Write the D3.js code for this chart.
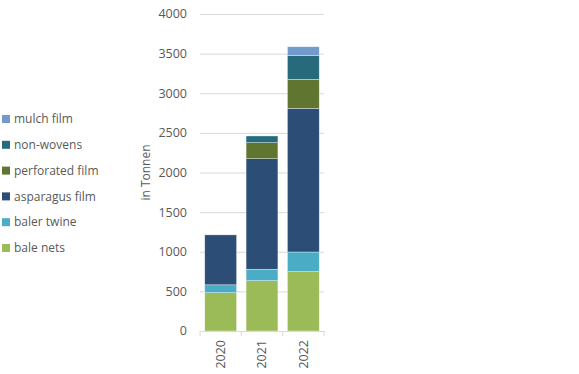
<!DOCTYPE html>
<html lang="en">
	<head>
		<meta charset="utf-8">
		<title>Tonnen</title>
		<script src="https://unpkg.com/d3@7/dist/d3.min.js"></script>
		<style>
			body { margin: 0; background: #fff; }
			text { font-family: "Open Sans", sans-serif; fill: #595959; }
		</style>
	</head>
	<body>
		<script type="text/javascript">

			//Data
			var years = ["2020", "2021", "2022"];
			var series = ["bale nets", "baler twine", "asparagus film", "perforated film", "non-wovens", "mulch film"];
			var baleNets = [483, 635, 749];
			var balerTwine = [100, 144, 248];
			var asparagusFilm = [630, 1395, 1813];
			var perforatedFilm = [0, 202, 366];
			var nonWovens = [0, 85, 298];
			var mulchFilm = [0, 0, 113];
			var yTicks = [0, 500, 1000, 1500, 2000, 2500, 3000, 3500, 4000];
			var colors = ["#9bbb59", "#4bacc6", "#2c4d75", "#5f7530", "#276a7c", "#729aca"];

			var values = [baleNets, balerTwine, asparagusFilm, perforatedFilm, nonWovens, mulchFilm];
			var table = years.map(function(y, i) {
				var row = { year: y };
				series.forEach(function(s, j) { row[s] = values[j][i]; });
				return row;
			});

			//Width and height
			var w = 579, h = 374;
			var margin = { top: 14, right: 255, bottom: 43, left: 200 };

			var svg = d3.select("body")
						.append("svg")
						.attr("width", w)
						.attr("height", h);

			var x = d3.scaleBand()
					  .domain(years)
					  .range([margin.left, w - margin.right])
					  .paddingInner(0.23)
					  .paddingOuter(0.115);

			var y = d3.scaleLinear()
					  .domain([0, 4000])
					  .range([h - margin.bottom, margin.top]);

			var color = d3.scaleOrdinal().domain(series).range(colors);

			//Gridlines
			svg.append("g")
			   .selectAll("line")
			   .data(yTicks.slice(1))
			   .enter()
			   .append("line")
			   .attr("x1", margin.left)
			   .attr("x2", w - margin.right)
			   .attr("y1", function(d) { return y(d) + 0.5; })
			   .attr("y2", function(d) { return y(d) + 0.5; })
			   .attr("stroke", "#d9d9d9")
			   .attr("stroke-width", 1);

			//Y axis labels
			svg.append("g")
			   .selectAll("text")
			   .data(yTicks)
			   .enter()
			   .append("text")
			   .attr("x", margin.left - 13)
			   .attr("y", function(d) { return y(d); })
			   .attr("dy", "0.35em")
			   .attr("text-anchor", "end")
			   .style("font-size", "12.5px")
			   .text(function(d) { return d; });

			svg.append("text")
			   .attr("transform", "translate(150," + ((margin.top + h - margin.bottom) / 2) + ") rotate(-90)")
			   .attr("text-anchor", "middle")
			   .style("font-size", "12px")
			   .text("in Tonnen");

			//Stacked bars
			var stack = d3.stack().keys(series)(table);

			svg.append("g")
			   .selectAll("g")
			   .data(stack)
			   .enter()
			   .append("g")
			   .attr("fill", function(d) { return color(d.key); })
			   .selectAll("rect")
			   .data(function(d) { return d; })
			   .enter()
			   .filter(function(d) { return d[1] - d[0] > 0; })
			   .append("rect")
			   .attr("x", function(d) { return x(d.data.year); })
			   .attr("width", x.bandwidth())
			   .attr("y", function(d) { return y(d[1]); })
			   .attr("height", function(d) { return y(d[0]) - y(d[1]); })
			   .attr("stroke", "#ffffff")
			   .attr("stroke-opacity", 0.6)
			   .attr("stroke-width", 0.6);

			//X axis
			var xAxis = d3.axisBottom(x).tickSize(0).tickPadding(0);
			var gx = svg.append("g")
			   .attr("transform", "translate(0," + (h - margin.bottom) + ")")
			   .call(xAxis);
			gx.select(".domain").attr("stroke", "#d9d9d9");
			gx.selectAll(".tick text")
			  .attr("transform", "rotate(-90)")
			  .attr("x", -9)
			  .attr("y", 0)
			  .attr("dy", "0.35em")
			  .attr("text-anchor", "end")
			  .style("font-size", "12.5px")
			  .style("font-family", "'Open Sans', sans-serif")
			  .attr("fill", "#595959");

			var step = x.step();
			var bounds = [margin.left, margin.left + step, margin.left + 2 * step, w - margin.right];
			gx.selectAll(".sep")
			  .data(bounds)
			  .enter()
			  .append("line")
			  .attr("x1", function(d) { return d; })
			  .attr("x2", function(d) { return d; })
			  .attr("y1", 0)
			  .attr("y2", 5)
			  .attr("stroke", "#d9d9d9");

			//Legend
			var legend = svg.append("g")
							.selectAll("g")
							.data(series.slice().reverse())
							.enter()
							.append("g")
							.attr("transform", function(d, i) { return "translate(2," + (119 + i * 25.8) + ")"; });

			legend.append("rect")
				  .attr("x", 0)
				  .attr("y", -4)
				  .attr("width", 8)
				  .attr("height", 8)
				  .attr("fill", function(d) { return color(d); });

			legend.append("text")
				  .attr("x", 12)
				  .attr("y", 0)
				  .attr("dy", "0.35em")
				  .style("font-size", "12px")
				  .text(function(d) { return d; });

		</script>
	</body>
</html>
